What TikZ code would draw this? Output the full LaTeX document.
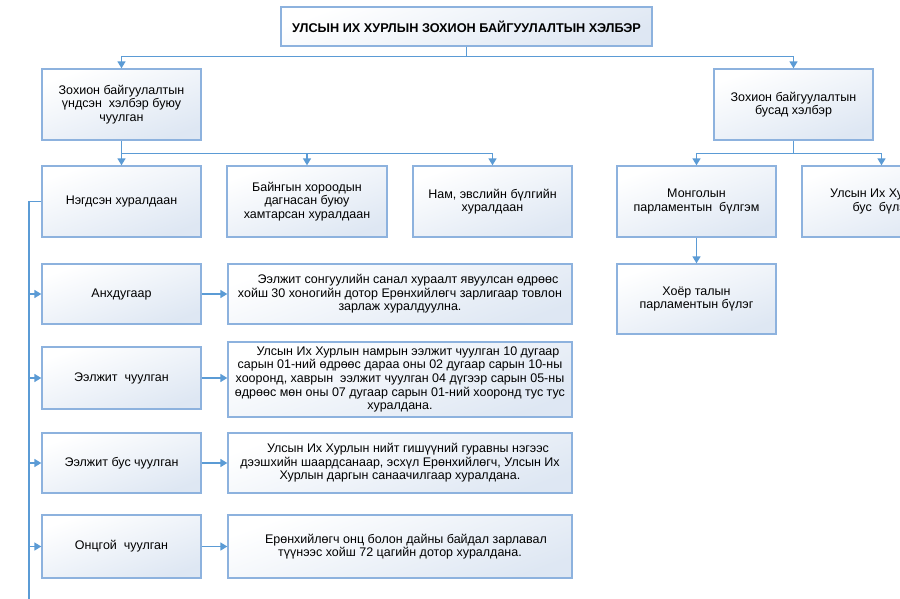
\documentclass[tikz,border=0pt]{standalone}
\usepackage{fontspec}
\setmainfont{Liberation Sans}
\usetikzlibrary{arrows.meta,shadows,calc}
\definecolor{linec}{RGB}{91,155,213}
\definecolor{boxc}{RGB}{141,178,222}
\definecolor{fillb}{RGB}{222,231,243}
\tikzset{
  box/.style={draw=boxc, line width=1.3pt, top color=white, bottom color=fillb, shading angle=20,
    inner sep=0pt, align=center, font=\fontsize{12.5}{13.6}\selectfont,
    drop shadow={shadow xshift=1pt, shadow yshift=-1pt, opacity=0.18, fill=black}},
  conn/.style={draw=linec, line width=1.4pt},
  arr/.style={conn, -{Triangle[length=7pt,width=8pt]}},
}
\begin{document}
\begin{tikzpicture}[x=1pt,y=-1pt]
\useasboundingbox (0,0) rectangle (900,599);
\clip (0,0) rectangle (900,599);
\fill[white] (0,0) rectangle (900,599);
% title
\node[box, minimum width=371pt, minimum height=39pt, font=\bfseries\fontsize{12.7}{13.6}\selectfont] (T) at (466.5,26.5) {УЛСЫН ИХ ХУРЛЫН ЗОХИОН БАЙГУУЛАЛТЫН ХЭЛБЭР};
% level 1
\node[box, minimum width=159pt, minimum height=71pt] (A) at (121.5,104.5) {Зохион байгуулалтын\\үндсэн\ \ хэлбэр буюу\\чуулган};
\node[box, minimum width=159pt, minimum height=71pt] (B) at (793.5,104.5) {Зохион байгуулалтын\\бусад хэлбэр};
% level 2
\node[box, minimum width=159pt, minimum height=71pt] (N) at (121.5,201.5) {Нэгдсэн хуралдаан};
\node[box, minimum width=160pt, minimum height=71pt] (BH) at (307,201.5) {Байнгын хороодын\\дагнасан буюу\\хамтарсан хуралдаан};
\node[box, minimum width=159pt, minimum height=71pt] (NM) at (492.5,201.5) {Нам, эвслийн бүлгийн\\хуралдаан};
\node[box, minimum width=159pt, minimum height=71pt] (MP) at (696.5,201.5) {Монголын\\парламентын\ \ бүлгэм};
\node[box, minimum width=159pt, minimum height=71pt] (UB) at (881.5,201.5) {Улсын Их Хурлын\\бус\ \ бүлэг};
\node[box, minimum width=159pt, minimum height=70pt] (HT) at (696.5,299) {Хоёр талын\\парламентын бүлэг};
% left column
\node[box, minimum width=159pt, minimum height=60pt] (S1) at (121.5,294) {Анхдугаар};
\node[box, minimum width=159pt, minimum height=62pt] (S2) at (121.5,378) {Ээлжит\ \ чуулган};
\node[box, minimum width=159pt, minimum height=60pt] (S3) at (121.5,463) {Ээлжит бус чуулган};
\node[box, minimum width=159pt, minimum height=63pt] (S4) at (121.5,546.5) {Онцгой\ \ чуулган};
\node[box, minimum width=344pt, minimum height=60pt] (D1) at (400,294) {\hspace*{16pt}Ээлжит сонгуулийн санал хураалт явуулсан өдрөөс\\хойш 30 хоногийн дотор Ерөнхийлөгч зарлигаар товлон\\зарлаж хуралдуулна.};
\node[box, minimum width=344pt, minimum height=75pt] (D2) at (400,379.5) {\hspace*{16pt}Улсын Их Хурлын намрын ээлжит чуулган 10 дугаар\\сарын 01-ний өдрөөс дараа оны 02 дугаар сарын\ 10-ны\\хооронд, хаврын\ \ ээлжит чуулган 04 дүгээр сарын 05-ны\\өдрөөс мөн оны 07 дугаар сарын 01-ний хооронд тус тус\\хуралдана.};
\node[box, minimum width=344pt, minimum height=60pt] (D3) at (400,463) {\hspace*{16pt}Улсын Их Хурлын нийт гишүүний гуравны нэгээс\\дээшхийн шаардсанаар, эсхүл Ерөнхийлөгч, Улсын Их\\Хурлын даргын санаачилгаар хуралдана.};
\node[box, minimum width=344pt, minimum height=63pt] (D4) at (400,546.5) {\hspace*{12pt}Ерөнхийлөгч онц болон дайны байдал зарлавал\\түүнээс хойш 72 цагийн дотор хуралдана.};
% connectors top
\draw[conn] (T.south) -- ++(0,10) coordinate (tb);
\draw[arr] (tb) -| (A.north);
\draw[arr] (tb) -| (B.north);
\draw[conn] (A.south) -- ++(0,13) coordinate (ab);
\draw[arr] (ab) -- (N.north);
\draw[arr] (ab) -| (BH.north);
\draw[arr] (ab) -| (NM.north);
\draw[conn] (B.south) -- ++(0,13) coordinate (bb);
\draw[arr] (bb) -| (MP.north);
\draw[arr] (bb) -| (UB.north);
\draw[arr] (MP.south) -- (HT.north);
% left spine
\coordinate (sp) at (29,201.5);
\coordinate (spb) at (29,600);
\draw[conn] (N.west) -- (sp) -- (spb);
\foreach \s in {S1,S2,S3,S4}{\draw[arr] (sp |- \s.west) -- (\s.west);}
\draw[arr] (S1.east) -- (S1.east -| D1.west);
\draw[arr] (S2.east) -- (S2.east -| D2.west);
\draw[arr] (S3.east) -- (S3.east -| D3.west);
\draw[arr] (S4.east) -- (S4.east -| D4.west);
\end{tikzpicture}
\end{document}
